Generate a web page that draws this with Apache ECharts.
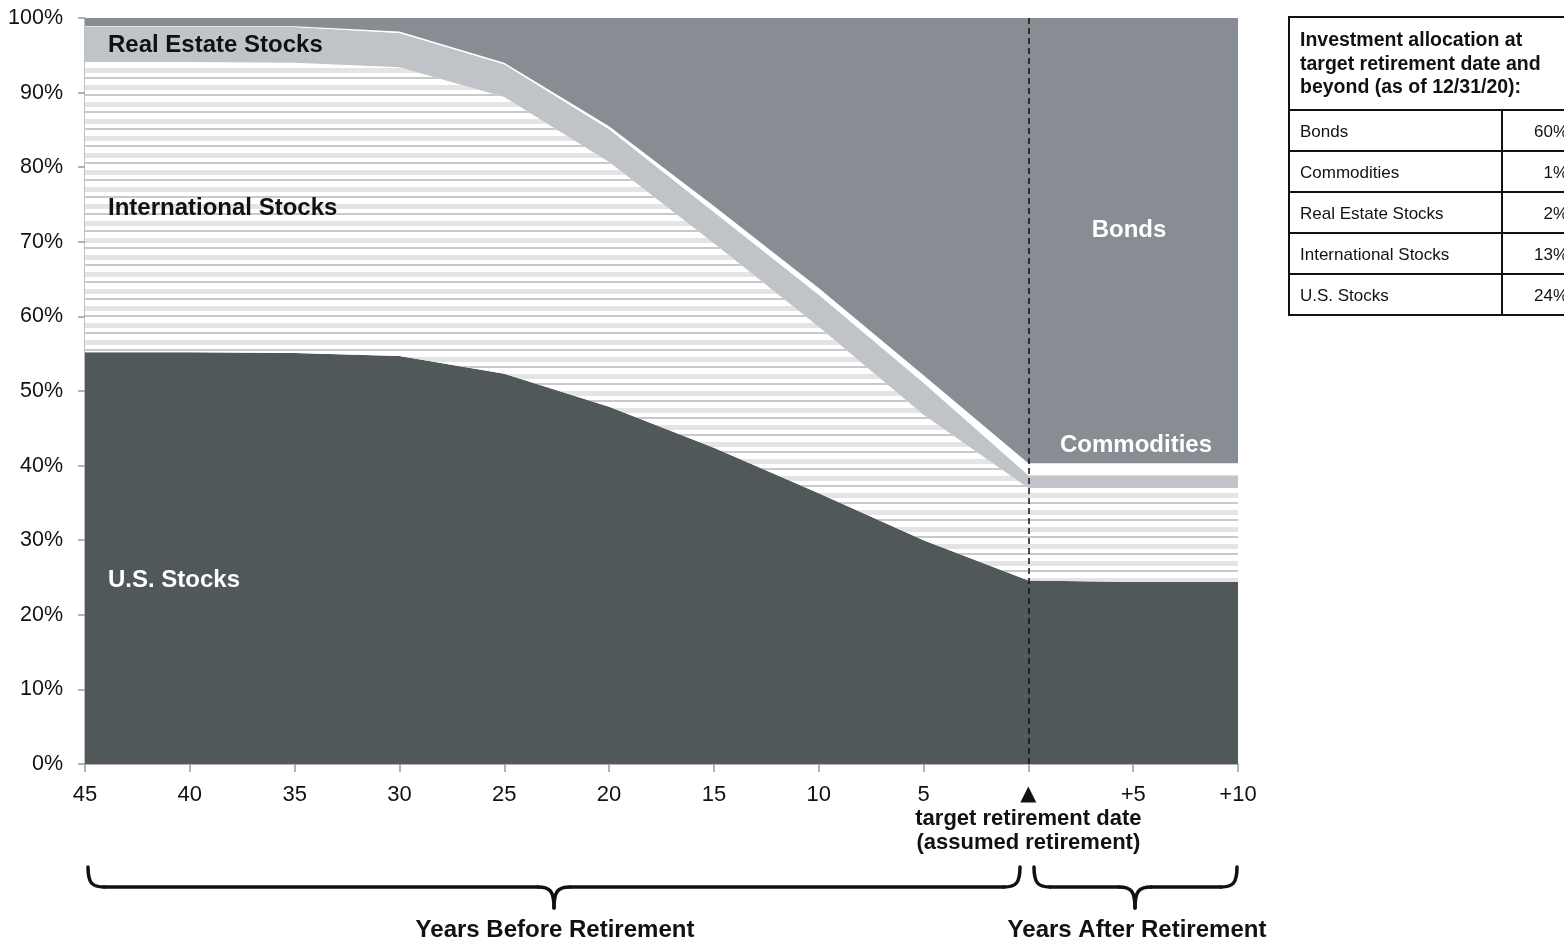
<!DOCTYPE html>
<html>
<head>
<meta charset="utf-8">
<script src="https://cdn.jsdelivr.net/npm/echarts@6/dist/echarts.min.js"></script>
<style>
html,body{margin:0;padding:0;background:#fff;}
#chart{width:1564px;height:938px;}
</style>
</head>
<body>
<div id="chart"></div>
<script>
// Years relative to target retirement date (negative = years before)
const years = [-45, -40, -35, -30, -25, -20, -15, -10, -5, 0, 5, 10];
const yTickLabels = ['0%', '10%', '20%', '30%', '40%', '50%', '60%', '70%', '80%', '90%', '100%'];
// Allocation (%)
const usStocks    = [55.2, 55.2, 55.1, 54.7, 52.3, 47.9, 42.4, 36.3, 30.0, 24.6, 24.4, 24.4];
const intlStocks  = [38.9, 38.9, 38.9, 38.7, 37.1, 32.8, 27.4, 22.3, 16.8, 12.4, 12.6, 12.6];
const realEstate  = [4.7, 4.7, 4.8, 4.6, 4.4, 4.4, 4.2, 4.3, 4.3, 1.7, 1.7, 1.7];
const commodities = [0.1, 0.1, 0.1, 0.2, 0.2, 0.4, 0.8, 0.9, 1.0, 1.6, 1.6, 1.6];
const bonds       = [1.1, 1.1, 1.1, 1.8, 6.0, 14.5, 25.2, 36.2, 47.9, 59.7, 59.7, 59.7];

const tableTitle = ['Investment allocation at', 'target retirement date and', 'beyond (as of 12/31/20):'];
const tableLabels = ['Bonds', 'Commodities', 'Real Estate Stocks', 'International Stocks', 'U.S. Stocks'];
const tableValues = ['60%', '1%', '2%', '13%', '24%'];

const FONT = "'Liberation Sans', Arial, Helvetica, sans-serif";

// category labels built from years
const categories = years.map(String);
const retireIndex = years.indexOf(0);

// striped pattern for International Stocks
const pc = document.createElement('canvas');
pc.width = 8; pc.height = 17;
const pctx = pc.getContext('2d');
pctx.fillStyle = '#ffffff'; pctx.fillRect(0, 0, 8, 17);
pctx.fillStyle = '#e4e4e4'; pctx.fillRect(0, 0, 8, 5);
pctx.fillStyle = '#c9c9c9'; pctx.fillRect(0, 9, 8, 2);

function areaSeries(name, arr, color) {
  return {
    name: name, type: 'line', stack: 'alloc', data: arr,
    showSymbol: false, symbol: 'none', smooth: false,
    lineStyle: { width: 0 },
    areaStyle: { color: color, opacity: 1 },
    silent: true
  };
}

const series = [
  areaSeries('U.S. Stocks', usStocks, '#50585a'),
  areaSeries('International Stocks', intlStocks, { image: pc, repeat: 'repeat' }),
  areaSeries('Real Estate Stocks', realEstate, '#c0c4c9'),
  areaSeries('Commodities', commodities, '#ffffff'),
  areaSeries('Bonds', bonds, '#878d93')
];
series[4].markLine = {
  silent: true, symbol: ['none', 'none'],
  label: { show: false },
  lineStyle: { type: [6, 4], color: '#111', width: 1.5 },
  data: [{ xAxis: retireIndex }]
};

// graphics: labels, table, braces
const g = [];
function txt(x, y, text, size, weight, color, align) {
  g.push({ type: 'text', x: x, y: y, z: 100,
    style: { text: text, fontSize: size, fontWeight: weight, fill: color,
      fontFamily: FONT, textAlign: align || 'left', textVerticalAlign: 'middle' } });
}
txt(108, 45, 'Real Estate Stocks', 24, 'bold', '#111');
txt(108, 208, 'International Stocks', 24, 'bold', '#111');
txt(108, 580, 'U.S. Stocks', 24, 'bold', '#fff');
txt(1129, 230, 'Bonds', 24, 'bold', '#fff', 'center');
txt(1136, 445, 'Commodities', 24, 'bold', '#fff', 'center');

// table
const tL = 1289, tR = 1590, tT = 17, hB = 110, rowH = 41, colX = 1502;
const tB = hB + rowH * tableLabels.length;
g.push({ type: 'rect', z: 100, shape: { x: tL, y: tT, width: tR - tL, height: tB - tT },
  style: { fill: 'none', stroke: '#111', lineWidth: 2 } });
for (let i = 0; i < tableLabels.length; i++) {
  const y0 = hB + i * rowH;
  g.push({ type: 'line', z: 100, shape: { x1: tL, y1: y0, x2: tR, y2: y0 }, style: { stroke: '#111', lineWidth: 2 } });
  txt(1300, y0 + rowH / 2 + 1.5, tableLabels[i], 17, 'normal', '#111');
  txt(1568, y0 + rowH / 2 + 1.5, tableValues[i], 17, 'normal', '#111', 'right');
}
g.push({ type: 'line', z: 100, shape: { x1: colX, y1: hB, x2: colX, y2: tB }, style: { stroke: '#111', lineWidth: 2 } });
tableTitle.forEach((t, i) => txt(1300, 41 + i * 23.5, t, 19.5, 'bold', '#111'));

// braces
function brace(x0, xm, x1, yTop, yMid, yTip) {
  const st = { stroke: '#111', lineWidth: 3.5, fill: 'none', lineCap: 'round' };
  const r = 16;
  g.push({ type: 'bezierCurve', z: 100, shape: { x1: x0, y1: yTop, x2: x0 + r, y2: yMid, cpx1: x0, cpy1: yMid - 4, cpx2: x0 + 4, cpy2: yMid }, style: st });
  g.push({ type: 'line', z: 100, shape: { x1: x0 + r, y1: yMid, x2: xm - r, y2: yMid }, style: st });
  g.push({ type: 'bezierCurve', z: 100, shape: { x1: xm - r, y1: yMid, x2: xm, y2: yTip, cpx1: xm - 4, cpy1: yMid, cpx2: xm, cpy2: yMid + 4 }, style: st });
  g.push({ type: 'bezierCurve', z: 100, shape: { x1: xm, y1: yTip, x2: xm + r, y2: yMid, cpx1: xm, cpy1: yMid + 4, cpx2: xm + 4, cpy2: yMid }, style: st });
  g.push({ type: 'line', z: 100, shape: { x1: xm + r, y1: yMid, x2: x1 - r, y2: yMid }, style: st });
  g.push({ type: 'bezierCurve', z: 100, shape: { x1: x1 - r, y1: yMid, x2: x1, y2: yTop, cpx1: x1 - 4, cpy1: yMid, cpx2: x1, cpy2: yMid - 4 }, style: st });
}
brace(88, 554, 1020, 867, 887, 908);
brace(1034, 1135, 1237, 867, 887, 908);
txt(555, 930, 'Years Before Retirement', 24, 'bold', '#111', 'center');
txt(1137, 930, 'Years After Retirement', 24, 'bold', '#111', 'center');

const chart = echarts.init(document.getElementById('chart'));
chart.setOption({
  animation: false,
  backgroundColor: '#fff',
  textStyle: { fontFamily: FONT },
  grid: { left: 85, right: 326, top: 18, bottom: 174, containLabel: false },
  xAxis: {
    type: 'category', data: categories, boundaryGap: false,
    splitLine: { show: false },
    axisLine: { show: true, lineStyle: { color: '#999', width: 1.5 } },
    axisTick: { show: true, length: 8, interval: 0, lineStyle: { color: '#999', width: 1.5 } },
    axisLabel: {
      interval: 0,
      fontSize: 22, color: '#111', margin: 19, lineHeight: 24, fontFamily: FONT,
      formatter: function (c) {
        const v = Number(c);
        if (v < 0) return String(-v);
        if (v === 0) return '{tri|▲}\n{b|target retirement date}\n{b|(assumed retirement)}';
        return '+' + v;
      },
      rich: {
        tri: { fontSize: 21, lineHeight: 24, color: '#111', fontFamily: 'DejaVu Sans' },
        b: { fontSize: 22, fontWeight: 'bold', lineHeight: 24, color: '#111', fontFamily: FONT }
      }
    }
  },
  yAxis: {
    type: 'value', min: 0, max: 100, interval: 10,
    splitLine: { show: false },
    axisLine: { show: true, onZero: false, lineStyle: { color: '#aaa', width: 1.5 } },
    axisTick: { show: true, length: 7, lineStyle: { color: '#999', width: 1.5 } },
    axisLabel: { fontSize: 21.5, color: '#111', margin: 22, fontFamily: FONT,
      formatter: function (v) { return yTickLabels[Math.round(v / 10)]; } }
  },
  series: series,
  graphic: g
});
</script>
</body>
</html>
